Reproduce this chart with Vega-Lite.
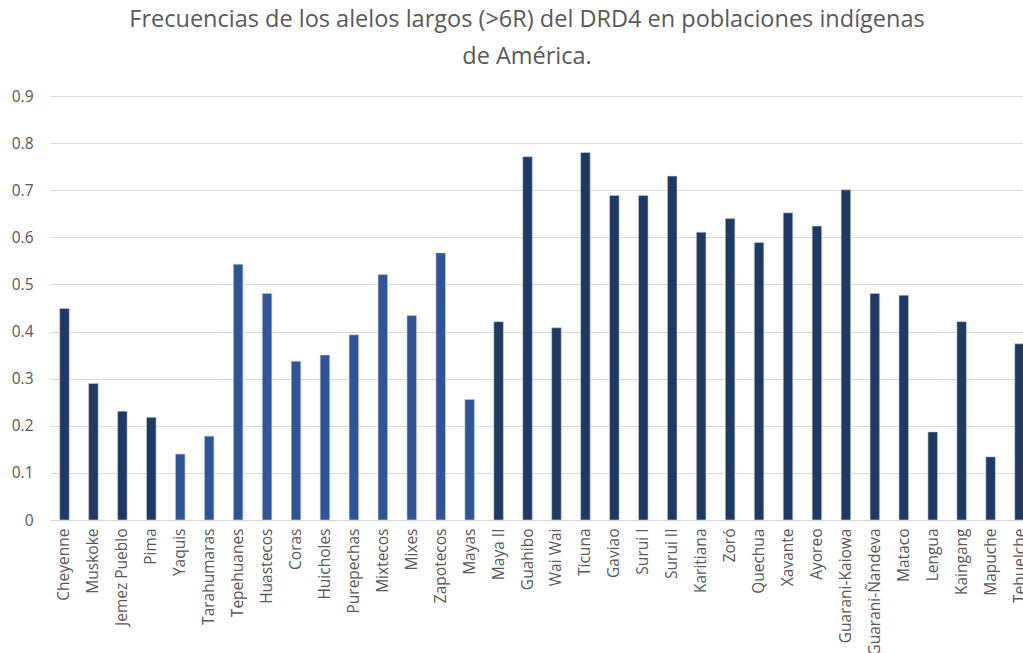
{
  "$schema": "https://vega.github.io/schema/vega-lite/v6.json",
  "autosize": {"type": "none"},
  "padding": {"left": 50, "top": 96, "right": 0, "bottom": 140},
  "width": 984,
  "height": 424,
  "background": "white",
  "title": {
    "text": ["Frecuencias de los alelos largos (>6R) del DRD4 en poblaciones indígenas", "de América."],
    "font": "Open Sans",
    "fontSize": 23.5,
    "fontWeight": "normal",
    "color": "#595959",
    "anchor": "middle",
    "lineHeight": 37,
    "offset": 21,
    "dx": -15
  },
  "data": {
    "values": [
      {"poblacion": "Cheyenne", "region": "Norteamérica", "frecuencia": 0.449},
      {"poblacion": "Muskoke", "region": "Norteamérica", "frecuencia": 0.290},
      {"poblacion": "Jemez Pueblo", "region": "Norteamérica", "frecuencia": 0.231},
      {"poblacion": "Pima", "region": "Norteamérica", "frecuencia": 0.218},
      {"poblacion": "Yaquis", "region": "México", "frecuencia": 0.140},
      {"poblacion": "Tarahumaras", "region": "México", "frecuencia": 0.178},
      {"poblacion": "Tepehuanes", "region": "México", "frecuencia": 0.543},
      {"poblacion": "Huastecos", "region": "México", "frecuencia": 0.481},
      {"poblacion": "Coras", "region": "México", "frecuencia": 0.337},
      {"poblacion": "Huicholes", "region": "México", "frecuencia": 0.350},
      {"poblacion": "Purepechas", "region": "México", "frecuencia": 0.393},
      {"poblacion": "Mixtecos", "region": "México", "frecuencia": 0.521},
      {"poblacion": "Mixes", "region": "México", "frecuencia": 0.434},
      {"poblacion": "Zapotecos", "region": "México", "frecuencia": 0.567},
      {"poblacion": "Mayas", "region": "México", "frecuencia": 0.256},
      {"poblacion": "Maya II", "region": "Centro y Sudamérica", "frecuencia": 0.421},
      {"poblacion": "Guahibo", "region": "Centro y Sudamérica", "frecuencia": 0.771},
      {"poblacion": "Wai Wai", "region": "Centro y Sudamérica", "frecuencia": 0.408},
      {"poblacion": "Ticuna", "region": "Centro y Sudamérica", "frecuencia": 0.780},
      {"poblacion": "Gaviao", "region": "Centro y Sudamérica", "frecuencia": 0.689},
      {"poblacion": "Surui I", "region": "Centro y Sudamérica", "frecuencia": 0.689},
      {"poblacion": "Surui II", "region": "Centro y Sudamérica", "frecuencia": 0.730},
      {"poblacion": "Karitiana", "region": "Centro y Sudamérica", "frecuencia": 0.611},
      {"poblacion": "Zoró", "region": "Centro y Sudamérica", "frecuencia": 0.640},
      {"poblacion": "Quechua", "region": "Centro y Sudamérica", "frecuencia": 0.589},
      {"poblacion": "Xavante", "region": "Centro y Sudamérica", "frecuencia": 0.652},
      {"poblacion": "Ayoreo", "region": "Centro y Sudamérica", "frecuencia": 0.624},
      {"poblacion": "Guarani-Kaiowa", "region": "Centro y Sudamérica", "frecuencia": 0.701},
      {"poblacion": "Guarani-Ñandeva", "region": "Centro y Sudamérica", "frecuencia": 0.481},
      {"poblacion": "Mataco", "region": "Centro y Sudamérica", "frecuencia": 0.477},
      {"poblacion": "Lengua", "region": "Centro y Sudamérica", "frecuencia": 0.187},
      {"poblacion": "Kaingang", "region": "Centro y Sudamérica", "frecuencia": 0.421},
      {"poblacion": "Mapuche", "region": "Centro y Sudamérica", "frecuencia": 0.134},
      {"poblacion": "Tehuelche", "region": "Centro y Sudamérica", "frecuencia": 0.374}
    ]
  },
  "mark": {"type": "bar", "stroke": "#c8d0e0", "strokeWidth": 0.6},
  "encoding": {
    "x": {
      "field": "poblacion",
      "type": "nominal",
      "sort": null,
      "scale": {"paddingInner": 0.67, "paddingOuter": 0.335},
      "axis": {
        "title": null,
        "labelAngle": -90,
        "labelFont": "Open Sans",
        "labelFontSize": 15.5,
        "labelColor": "#595959",
        "labelPadding": 8,
        "ticks": false,
        "domainColor": "#d9d9d9",
        "domainWidth": 1,
        "grid": false
      }
    },
    "y": {
      "field": "frecuencia",
      "type": "quantitative",
      "scale": {"domain": [0, 0.9], "nice": false},
      "axis": {
        "title": null,
        "values": [0, 0.1, 0.2, 0.3, 0.4, 0.5, 0.6, 0.7, 0.8, 0.9],
        "format": "~g",
        "labelFont": "Open Sans",
        "labelFontSize": 15.5,
        "labelColor": "#595959",
        "labelPadding": 17,
        "ticks": false,
        "domain": false,
        "gridColor": "#d9d9d9",
        "gridWidth": 1
      }
    },
    "color": {
      "field": "region",
      "type": "nominal",
      "scale": {"domain": ["Norteamérica", "México", "Centro y Sudamérica"], "range": ["#203864", "#2f5597", "#203864"]},
      "legend": null
    }
  },
  "config": {"view": {"stroke": null}}
}
